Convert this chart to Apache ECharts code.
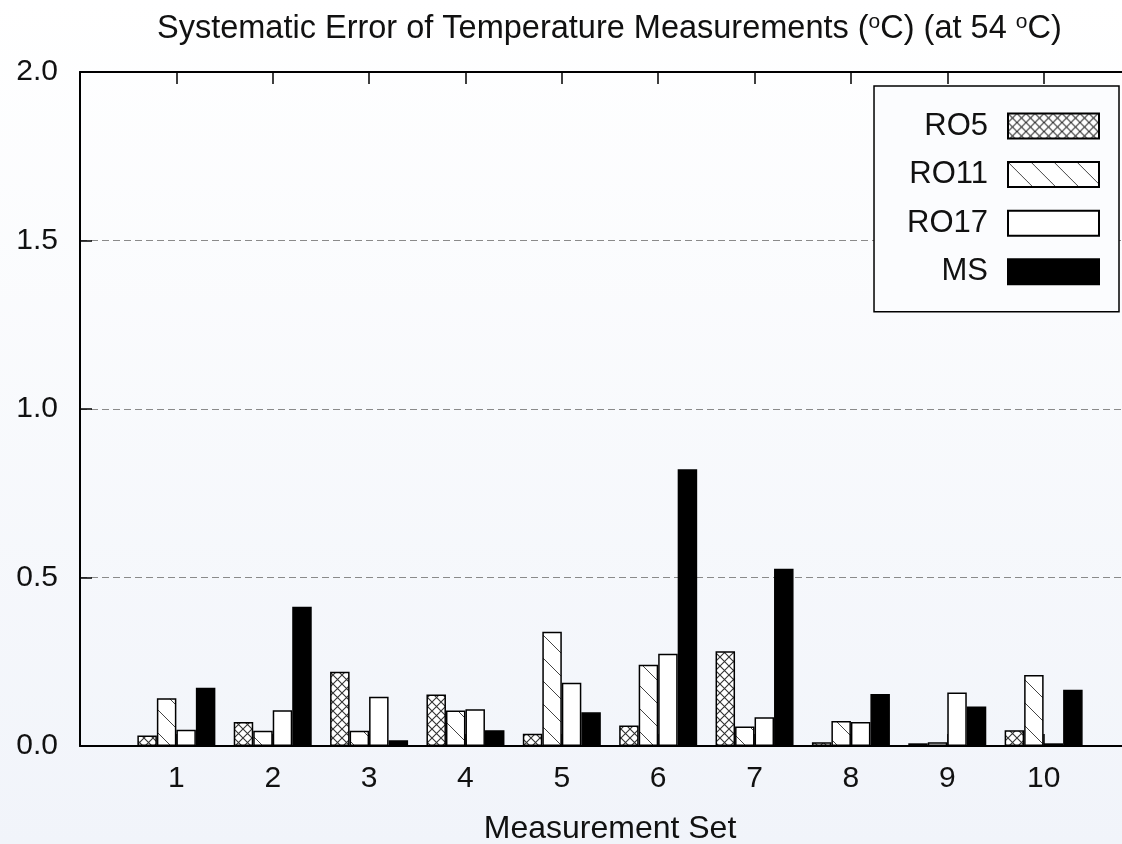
<!DOCTYPE html>
<html>
<head>
<meta charset="utf-8">
<script src="https://cdn.jsdelivr.net/npm/echarts@6/dist/echarts.min.js"></script>
<style>
html,body{margin:0;padding:0;background:#fff;}
#chart{width:1122px;height:844px;}
</style>
</head>
<body>
<div id="chart"></div>
<script>
const categories = [1, 2, 3, 4, 5, 6, 7, 8, 9, 10];
const seriesNames = ['RO5', 'RO11', 'RO17', 'MS'];
const RO5  = [0.031, 0.071, 0.220, 0.153, 0.036, 0.061, 0.281, 0.011, 0.008, 0.047];
const RO11 = [0.142, 0.045, 0.045, 0.105, 0.339, 0.241, 0.058, 0.074, 0.011, 0.211];
const RO17 = [0.048, 0.106, 0.146, 0.109, 0.188, 0.274, 0.085, 0.071, 0.159, 0.008];
const MS   = [0.173, 0.413, 0.017, 0.047, 0.100, 0.821, 0.526, 0.154, 0.117, 0.167];
const yTicks = [0, 0.5, 1.0, 1.5, 2.0];

function crossPattern() {
  const s = 9, c = document.createElement('canvas');
  c.width = s; c.height = s;
  const g = c.getContext('2d');
  g.fillStyle = '#ffffff'; g.fillRect(0, 0, s, s);
  g.strokeStyle = '#333'; g.lineWidth = 1.1;
  g.beginPath();
  g.moveTo(0, 0); g.lineTo(s, s);
  g.moveTo(0, s); g.lineTo(s, 0);
  g.stroke();
  return c;
}
function diagPattern() {
  const s = 23, c = document.createElement('canvas');
  c.width = s; c.height = s;
  const g = c.getContext('2d');
  g.fillStyle = '#ffffff'; g.fillRect(0, 0, s, s);
  g.strokeStyle = '#444'; g.lineWidth = 1;
  g.beginPath();
  g.moveTo(-2, -2); g.lineTo(s + 2, s + 2);
  g.stroke();
  return c;
}

const fills = [
  { image: crossPattern(), repeat: 'repeat' },
  { image: diagPattern(), repeat: 'repeat' },
  '#ffffff',
  '#000000'
];
const values = [RO5, RO11, RO17, MS];
const FONT = 'Liberation Sans, Arial, sans-serif';

const chart = echarts.init(document.getElementById('chart'));
const option = {
  animation: false,
  backgroundColor: new echarts.graphic.LinearGradient(0, 0, 0, 1, [
    { offset: 0, color: '#ffffff' },
    { offset: 1, color: '#f1f4fa' }
  ]),
  title: {
    text: 'Systematic Error of Temperature Measurements ({sup|o}C) (at 54 {sup|o}C)',
    left: 152,
    top: 7,
    textStyle: {
      fontFamily: FONT, fontSize: 32.5, fontWeight: 'normal', color: '#111',
      rich: { sup: { fontFamily: FONT, fontSize: 21, color: '#111', verticalAlign: 'top', padding: [0, 0, 14, 0] } }
    }
  },
  legend: {
    orient: 'vertical',
    right: 3,
    top: 86,
    align: 'right',
    itemWidth: 91,
    itemHeight: 25,
    itemGap: 17.6,
    padding: [24.5, 19, 24.5, 33],
    borderColor: '#000',
    borderWidth: 1.5,
    backgroundColor: '#fbfcfe',
    borderRadius: 0,
    textStyle: { fontFamily: FONT, fontSize: 31, color: '#111', padding: [0, 15, 0, 0] },
    data: seriesNames.map(n => ({ name: n, icon: 'rect' }))
  },
  grid: { left: 80, right: -18, top: 72, bottom: 98, show: false, outerBoundsMode: 'none', containLabel: false },
  xAxis: [
    {
      type: 'value', position: 'bottom', min: 0, max: 11, interval: 1,
      name: 'Measurement Set', nameLocation: 'middle', nameGap: 67,
      nameTextStyle: { fontFamily: FONT, fontSize: 32, color: '#111' },
      axisLine: { show: true, onZero: false, lineStyle: { color: '#000', width: 2 } },
      axisTick: { show: true, inside: true, length: 12, lineStyle: { color: '#000', width: 1.5 } },
      axisLabel: {
        fontFamily: FONT, fontSize: 30, color: '#111', margin: 18,
        formatter: v => (v >= 1 && v <= 10 && Number.isInteger(v)) ? String(v) : ''
      },
      splitLine: { show: false }
    },
    {
      type: 'value', position: 'top', min: 0, max: 11, interval: 1,
      axisLine: { show: true, onZero: false, lineStyle: { color: '#000', width: 2 } },
      axisTick: { show: true, inside: true, length: 12, lineStyle: { color: '#000', width: 1.5 } },
      axisLabel: { show: false },
      splitLine: { show: false }
    }
  ],
  yAxis: {
    type: 'value', min: 0, max: 2, interval: 0.5,
    axisLine: { show: true, onZero: false, lineStyle: { color: '#000', width: 2 } },
    axisTick: { show: true, inside: true, length: 12, lineStyle: { color: '#000', width: 1.5 } },
    axisLabel: {
      fontFamily: FONT, fontSize: 30, color: '#111', margin: 22,
      formatter: v => yTicks.indexOf(v) >= 0 ? v.toFixed(1) : ''
    },
    splitLine: { show: true, lineStyle: { color: '#8a8a8a', width: 1, type: [7, 4] } }
  },
  series: seriesNames.map((name, k) => ({
    name: name,
    type: 'bar',
    xAxisIndex: 0,
    barWidth: 19.5,
    barGap: '0%',
    itemStyle: { color: fills[k], borderColor: '#000', borderWidth: 1.5 },
    emphasis: { disabled: true },
    data: values[k].map((v, i) => [categories[i], v])
  }))
};
chart.setOption(option);
</script>
</body>
</html>
